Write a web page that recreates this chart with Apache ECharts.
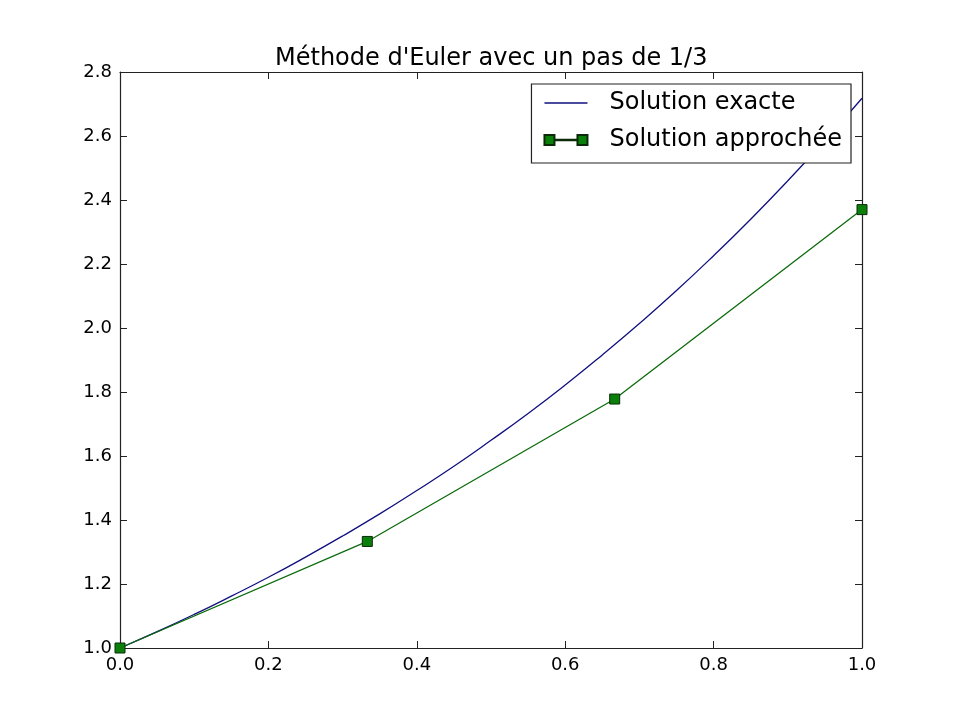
<!DOCTYPE html>
<html>
<head>
<meta charset="utf-8">
<script src="https://cdn.jsdelivr.net/npm/echarts@6/dist/echarts.min.js"></script>
<style>
html, body { margin: 0; padding: 0; background: #fff; }
#chart { width: 958px; height: 720px; }
</style>
</head>
<body>
<div id="chart"></div>
<script>
// courbe exacte
var exactX = [0, 0.05, 0.1, 0.15, 0.2, 0.25, 0.3, 0.35, 0.4, 0.45, 0.5, 0.55, 0.6, 0.65, 0.7, 0.75, 0.8, 0.85, 0.9, 0.95, 1.0];
var exactY = [1.0, 1.051, 1.105, 1.162, 1.221, 1.284, 1.350, 1.419, 1.492, 1.568, 1.649, 1.733, 1.822, 1.916, 2.014, 2.117, 2.226, 2.340, 2.460, 2.586, 2.718];
// points d'Euler
var eulerX = [0, 0.3333, 0.6667, 1.0];
var eulerY = [1.0, 1.333, 1.778, 2.370];
var xTicks = [0.0, 0.2, 0.4, 0.6, 0.8, 1.0];
var yTicks = [1.0, 1.2, 1.4, 1.6, 1.8, 2.0, 2.2, 2.4, 2.6, 2.8];

function pairs(xs, ys) {
    return xs.map(function (x, i) { return [x, ys[i]]; });
}

var font = 'DejaVu Sans';
var axisLine = { show: true, onZero: false, lineStyle: { color: '#222', width: 1.2 } };
var tick = { show: true, inside: true, length: 7, lineStyle: { color: '#222', width: 1 } };

echarts.init(document.getElementById('chart'), null, { renderer: 'canvas' }).setOption({
    animation: false,
    backgroundColor: '#fff',
    title: {
        text: "Méthode d'Euler avec un pas de 1/3",
        left: 270,
        top: 42,
        textStyle: { fontFamily: font, fontSize: 24, fontWeight: 'normal', color: '#000' }
    },
    grid: { left: 120, right: 96, top: 72, bottom: 72 },
    legend: {
        orient: 'vertical',
        right: 107,
        top: 84,
        padding: [6, 9, 10, 12],
        itemGap: 11,
        itemWidth: 43,
        itemHeight: 10,
        borderColor: '#222',
        borderWidth: 1.2,
        borderRadius: 0,
        backgroundColor: '#fff',
        textStyle: { fontFamily: font, fontSize: 24, lineHeight: 26, color: '#000', padding: [0, 0, 0, 17] },
        data: [{
            name: 'Solution exacte',
            icon: 'path://M0,4.4h43v1.3h-43z'
        }, {
            name: 'Solution approchée',
            icon: 'path://M0,0h10v10h-10z M10,4.8h23v0.4h-23z M33,0h10v10h-10z'
        }]
    },
    xAxis: [{
        type: 'value',
        min: 0, max: 1, interval: 0.2,
        axisLine: axisLine,
        axisTick: tick,
        splitLine: { show: false },
        axisLabel: {
            fontFamily: font, fontSize: 18, color: '#000', margin: 8,
            formatter: function (v) { return v.toFixed(1); }
        }
    }, {
        type: 'value',
        position: 'top',
        min: 0, max: 1, interval: 0.2,
        axisLine: axisLine,
        axisTick: tick,
        splitLine: { show: false },
        axisLabel: { show: false }
    }],
    yAxis: [{
        type: 'value',
        min: 1.0, max: 2.8, interval: 0.2,
        axisLine: axisLine,
        axisTick: tick,
        splitLine: { show: false },
        axisLabel: {
            fontFamily: font, fontSize: 18, color: '#000', margin: 8,
            formatter: function (v) { return v.toFixed(1); }
        }
    }, {
        type: 'value',
        position: 'right',
        min: 1.0, max: 2.8, interval: 0.2,
        axisLine: axisLine,
        axisTick: tick,
        splitLine: { show: false },
        axisLabel: { show: false }
    }],
    series: [{
        name: 'Solution exacte',
        type: 'line',
        symbol: 'none',
        smooth: true,
        data: pairs(exactX, exactY),
        lineStyle: { color: '#10107f', width: 1.3 },
        itemStyle: { color: '#10107f' }
    }, {
        name: 'Solution approchée',
        type: 'line',
        symbol: 'rect',
        symbolSize: 10,
        showAllSymbol: true,
        data: pairs(eulerX, eulerY),
        lineStyle: { color: '#0b6b0b', width: 1.3 },
        itemStyle: { color: '#0a800a', borderColor: '#0a2a0a', borderWidth: 1 }
    }]
});
</script>
</body>
</html>
